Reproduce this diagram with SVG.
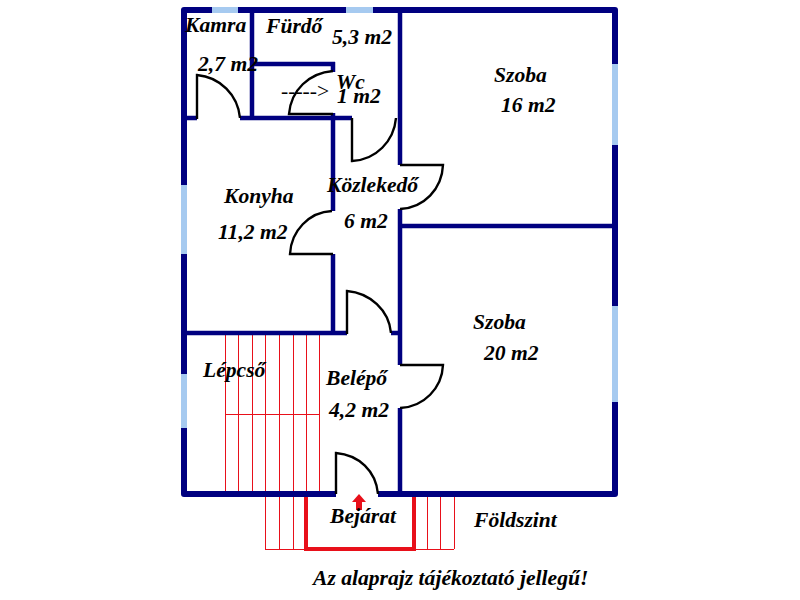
<svg xmlns="http://www.w3.org/2000/svg" width="800" height="600" viewBox="0 0 800 600">
<style>
.w{fill:none;stroke:#000080;stroke-width:6;stroke-linecap:butt}
.i{fill:none;stroke:#000080;stroke-width:4.5;stroke-linecap:butt}
.win{fill:none;stroke:#a6caf0;stroke-width:6}
.d{fill:none;stroke:#000;stroke-width:2.4}
.s{fill:none;stroke:#e8101a;stroke-width:1}
text{font-family:"Liberation Serif","Times New Roman",serif;font-weight:bold;font-style:italic;font-size:21.6px;fill:#000}
.p{font-weight:normal;font-style:normal}
</style>
<rect width="800" height="600" fill="#fff"/>
<g id="stairs">
<path class="s" d="M225.500 333V494M238.500 333V494M252.500 333V494M265.500 333V549.500M279.500 333V549.500M293.500 333V549.500M306.500 333V494M319.500 333V494M225 414.500H319M265 549.500H454M427.500 494V549M440.500 494V549M454.500 494V549"/>
<path d="M306 496V549H414V496" fill="none" stroke="#e8101a" stroke-width="4"/>
<path d="M359 494L366 502H362V510H356V502H352Z" fill="#e8101a"/>
</g>
<g id="walls">
<path class="w" stroke-linejoin="round" d="M336 494H184V10H615V494H378"/>
<path class="win" d="M212 10H238M346 10H373M615 64V145M615 306V402M184 185V254M184 374V428"/>
<path class="i" d="M184 118H197M240 118H352M252 10V118M252 64H335M333 62V72M333 113V211M333 254V333M184 333H347M391 333H400M400 10V165M400 209V365M400 408V494M400 226H615"/>
</g>
<g id="doors">
<path class="d" d="M197 119V75C220 77 238 95 240 118"/>
<path class="d" d="M333 71C309 73 291 90 289 114H333"/>
<path class="d" d="M352 118V161C376 160 394 141 396 118"/>
<path class="d" d="M400 165H443C442 189 424 208 400 209"/>
<path class="d" d="M332 211C309 212 291 231 290 254H333"/>
<path class="d" d="M347 334V291C370 293 389 310 391 333"/>
<path class="d" d="M400 365H443C442 388 424 407 400 408"/>
<path class="d" d="M336 494V453C359 455 376 471 378 494"/>
</g>
<g id="labels">
<text x="185" y="32">Kamra</text>
<text x="198" y="71">2,7 m2</text>
<text x="266" y="33">Fürdő</text>
<text x="332" y="44">5,3 m2</text>
<text class="p" x="281" y="98">-----&gt;</text>
<text x="336" y="89">Wc</text>
<text x="337" y="103">1 m2</text>
<text x="494" y="82">Szoba</text>
<text x="501" y="112">16 m2</text>
<text x="224" y="203">Konyha</text>
<text x="218" y="239">11,2 m2</text>
<text x="327" y="192">Közlekedő</text>
<text x="344" y="228">6 m2</text>
<text x="473" y="329">Szoba</text>
<text x="484" y="360">20 m2</text>
<text x="203" y="377">Lépcső</text>
<text x="326" y="385">Belépő</text>
<text x="329" y="417">4,2 m2</text>
<text x="330" y="523">Bejárat</text>
<text x="474" y="527">Földszint</text>
<text x="313" y="585">Az alaprajz tájékoztató jellegű!</text>
</g>
</svg>
